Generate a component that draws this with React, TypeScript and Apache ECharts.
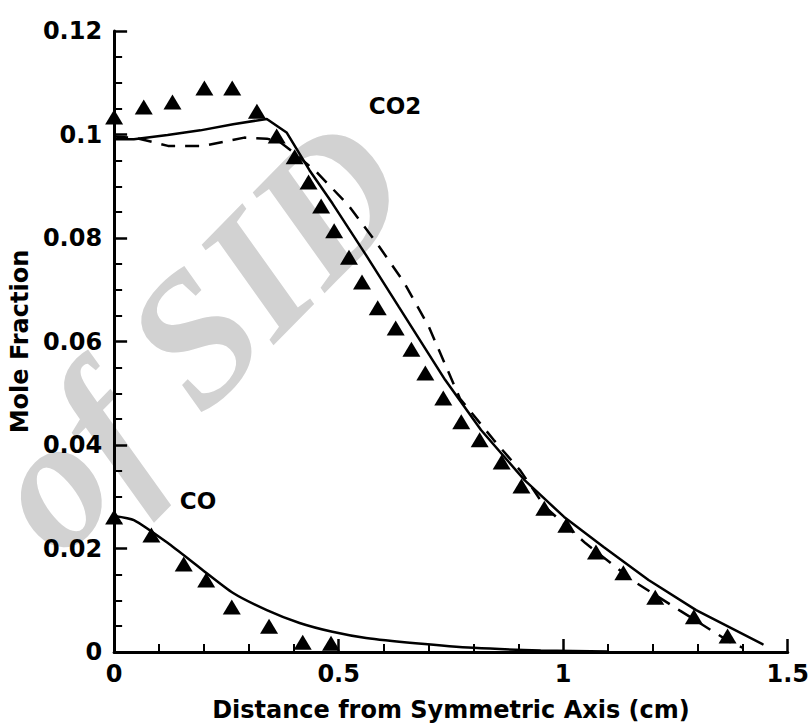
import React, { useEffect, useRef } from "react";
import * as echarts from "echarts";

// CO2 experimental (triangles)
const co2ExpX = [0, 0.066, 0.13, 0.201, 0.263, 0.318, 0.362, 0.402, 0.433, 0.461, 0.49, 0.523, 0.552, 0.587, 0.627, 0.662, 0.693, 0.733, 0.773, 0.814, 0.863, 0.907, 0.958, 1.007, 1.073, 1.134, 1.205, 1.291, 1.366];
const co2ExpY = [0.1034, 0.1053, 0.1063, 0.109, 0.109, 0.1045, 0.0997, 0.0957, 0.0908, 0.0862, 0.0814, 0.0763, 0.0715, 0.0665, 0.0626, 0.0585, 0.0539, 0.0491, 0.0445, 0.041, 0.0367, 0.0321, 0.0278, 0.0245, 0.0193, 0.0153, 0.0106, 0.0068, 0.0031];

// CO2 model (solid)
const co2SolidX = [0, 0.044, 0.119, 0.192, 0.265, 0.34, 0.384, 0.435, 0.486, 0.561, 0.634, 0.737, 0.817, 0.914, 1.002, 1.09, 1.19, 1.296, 1.446];
const co2SolidY = [0.0991, 0.0991, 0.0999, 0.1008, 0.102, 0.103, 0.1004, 0.0931, 0.0867, 0.0767, 0.0667, 0.0526, 0.0429, 0.0332, 0.0261, 0.0203, 0.0139, 0.0081, 0.0014];

// CO2 model (dashed)
const co2DashX = [0, 0.05, 0.12, 0.2, 0.29, 0.34, 0.37, 0.4, 0.45, 0.52, 0.585, 0.645, 0.7, 0.77, 0.845, 0.905, 0.96, 1.05, 1.16, 1.26, 1.37, 1.4];
const co2DashY = [0.0996, 0.0993, 0.0978, 0.0978, 0.0994, 0.0992, 0.0985, 0.0965, 0.0928, 0.0865, 0.079, 0.0715, 0.063, 0.049, 0.041, 0.035, 0.028, 0.021, 0.0135, 0.008, 0.002, 0.0008];

// CO experimental (triangles)
const coExpX = [0, 0.083, 0.155, 0.205, 0.262, 0.345, 0.42, 0.483];
const coExpY = [0.0261, 0.0226, 0.017, 0.0139, 0.0087, 0.005, 0.0019, 0.0017];

// CO model (solid)
const coSolidX = [0, 0.044, 0.119, 0.192, 0.265, 0.34, 0.413, 0.486, 0.561, 0.671, 0.8, 0.95, 1.1];
const coSolidY = [0.0263, 0.0255, 0.0211, 0.0162, 0.0114, 0.0081, 0.0056, 0.0039, 0.0027, 0.0017, 0.0008, 0.0003, 0.0001];

const xTicks = { min: 0, max: 1.5, interval: 0.5 };
const yTicks = { min: 0, max: 0.12, interval: 0.02 };

const xTitle = "Distance from Symmetric Axis (cm)";
const yTitle = "Mole Fraction";

const zip = (xs: number[], ys: number[]) => xs.map((x, i) => [x, ys[i]]);

export default function App() {
  const ref = useRef<HTMLDivElement>(null);
  useEffect(() => {
    if (!ref.current) return;
    const chart = echarts.init(ref.current, undefined, { renderer: "svg" });
    const font = "DejaVu Sans";
    const axisCommon = {
      axisLine: { show: true, onZero: false, lineStyle: { color: "#000", width: 3 } },
      axisTick: { show: true, inside: true, length: 13, lineStyle: { color: "#000", width: 2.5 } },
      splitLine: { show: false },
      axisLabel: { color: "#000", fontSize: 24, fontWeight: "bold", fontFamily: font },
      nameLocation: "middle",
      nameTextStyle: { color: "#000", fontSize: 24, fontWeight: "bold", fontFamily: font },
      z: 2,
    };
    const wmRot = (45.5 * Math.PI) / 180;
    const wmStyle = {
      fill: "#d2d2d2",
      font: "italic bold 186px 'Liberation Serif'",
      textAlign: "center",
      textVerticalAlign: "middle",
    };
    chart.setOption({
      animation: false,
      backgroundColor: "#fff",
      grid: { left: 113, right: 20, top: 31, bottom: 76 },
      xAxis: {
        type: "value",
        ...xTicks,
        ...axisCommon,
        minorTick: { show: true, splitNumber: 5, length: 8, lineStyle: { color: "#000", width: 2 } },
        axisLabel: { ...axisCommon.axisLabel, margin: 10 },
        name: xTitle,
        nameGap: 46,
      },
      yAxis: {
        type: "value",
        ...yTicks,
        ...axisCommon,
        minorTick: { show: true, splitNumber: 4, length: 8, lineStyle: { color: "#000", width: 2 } },
        axisLabel: { ...axisCommon.axisLabel, margin: 12 },
        name: yTitle,
        nameGap: 63,
      },
      graphic: [
        {
          type: "text",
          x: 70,
          y: 462,
          rotation: wmRot,
          z: -10,
          silent: true,
          style: { ...wmStyle, text: "of" },
        },
        {
          type: "text",
          x: 266,
          y: 263,
          rotation: wmRot,
          z: -10,
          silent: true,
          style: { ...wmStyle, text: "SID" },
        },
        {
          type: "text",
          x: 395,
          y: 106,
          z: 5,
          style: { text: "CO2", fill: "#000", font: `bold 23px '${font}'`, textAlign: "center", textVerticalAlign: "middle" },
        },
        {
          type: "text",
          x: 198,
          y: 501,
          z: 5,
          style: { text: "CO", fill: "#000", font: `bold 23px '${font}'`, textAlign: "center", textVerticalAlign: "middle" },
        },
      ],
      series: [
        {
          name: "CO2 solid",
          type: "line",
          data: zip(co2SolidX, co2SolidY),
          showSymbol: false,
          lineStyle: { color: "#000", width: 2.5 },
          z: 3,
        },
        {
          name: "CO2 dashed",
          type: "line",
          data: zip(co2DashX, co2DashY),
          showSymbol: false,
          lineStyle: { color: "#000", width: 2.5, type: [14, 10] },
          z: 3,
        },
        {
          name: "CO solid",
          type: "line",
          data: zip(coSolidX, coSolidY),
          showSymbol: false,
          smooth: 0.2,
          lineStyle: { color: "#000", width: 2.5 },
          z: 3,
        },
        {
          name: "CO2 exp",
          type: "scatter",
          data: zip(co2ExpX, co2ExpY),
          symbol: "triangle",
          symbolSize: [18, 15],
          itemStyle: { color: "#000", opacity: 1 },
          z: 4,
        },
        {
          name: "CO exp",
          type: "scatter",
          data: zip(coExpX, coExpY),
          symbol: "triangle",
          symbolSize: [18, 15],
          itemStyle: { color: "#000", opacity: 1 },
          z: 4,
        },
      ],
    });
    return () => chart.dispose();
  }, []);
  return <div ref={ref} style={{ position: "absolute", left: 0, top: 0, width: 812, height: 728 }} />;
}
